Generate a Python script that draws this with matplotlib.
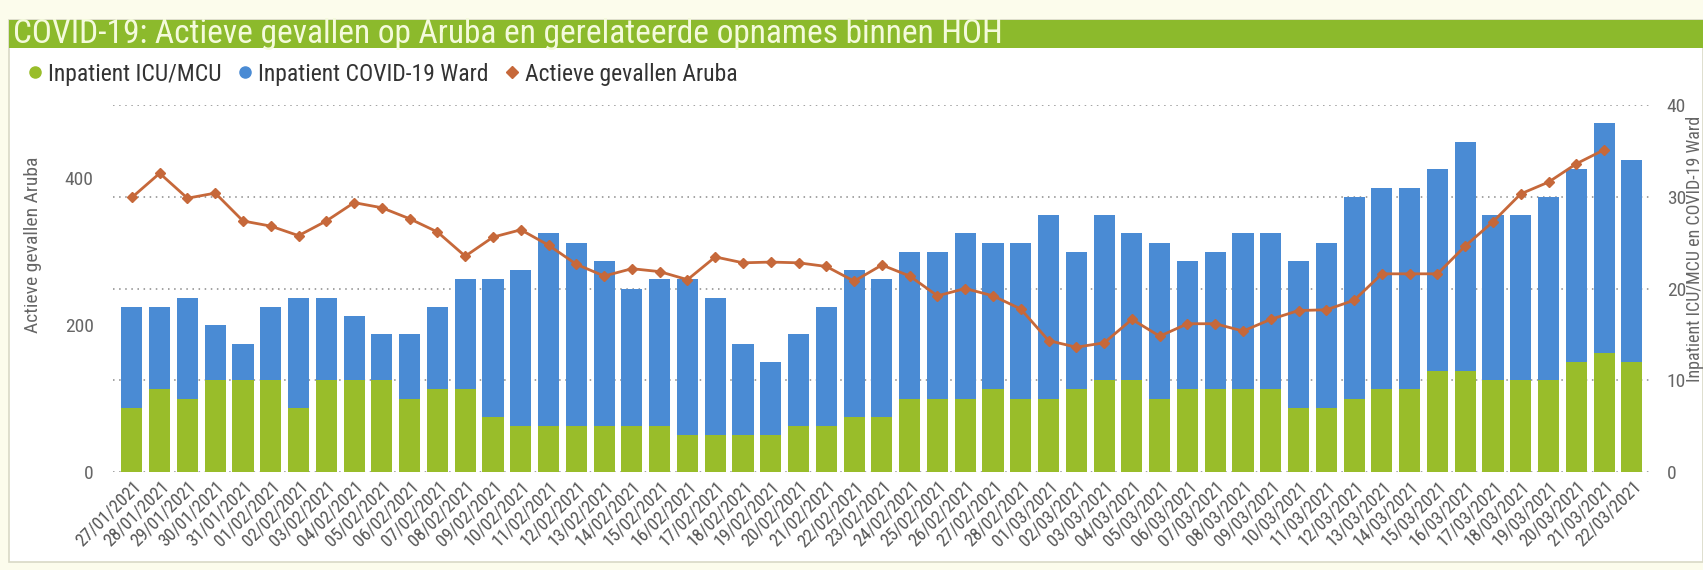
import numpy as np
import matplotlib
matplotlib.use("Agg")
import matplotlib.pyplot as plt
from matplotlib import font_manager
from matplotlib.lines import Line2D
from matplotlib.patches import Rectangle

# the reference uses a narrow regular face; take one if it is installed
fonts = font_manager.fontManager.ttflist


def is_narrow(f):
    return ('Condensed' in f.name or 'Narrow' in f.name
            or f.stretch in ('condensed', 'semi-condensed'))


cands = [f for f in fonts if is_narrow(f) and f.style == 'normal'
         and f.weight in (300, 400, 'normal', 'regular', 'light', 'book')]
if cands:
    # regular weight first, light after
    cands.sort(key=lambda f: 0 if f.weight in (400, 'normal', 'regular', 'book') else 1)
    f0 = cands[0]
    for pref in ['Liberation Sans Narrow', 'Roboto Condensed', 'Noto Sans', 'Open Sans']:
        hit = [f for f in cands if f.name == pref]
        if hit:
            f0 = hit[0]
            break
    plt.rcParams['font.family'] = [f0.name, 'DejaVu Sans']
    plt.rcParams['font.stretch'] = f0.stretch
    plt.rcParams['font.weight'] = f0.weight
    sz = dict(title=24, legend=17, dates=13, ticks=14, ylab=14, ylab2=13)
else:
    plt.rcParams['font.family'] = ['Liberation Sans', 'DejaVu Sans']
    sz = dict(title=21, legend=15.5, dates=11.5, ticks=12.5, ylab=12.5, ylab2=11.5)

# data
dates = ["27/01/2021", "28/01/2021", "29/01/2021", "30/01/2021", "31/01/2021",
         "01/02/2021", "02/02/2021", "03/02/2021", "04/02/2021", "05/02/2021",
         "06/02/2021", "07/02/2021", "08/02/2021", "09/02/2021", "10/02/2021",
         "11/02/2021", "12/02/2021", "13/02/2021", "14/02/2021", "15/02/2021",
         "16/02/2021", "17/02/2021", "18/02/2021", "19/02/2021", "20/02/2021",
         "21/02/2021", "22/02/2021", "23/02/2021", "24/02/2021", "25/02/2021",
         "26/02/2021", "27/02/2021", "28/02/2021", "01/03/2021", "02/03/2021",
         "03/03/2021", "04/03/2021", "05/03/2021", "06/03/2021", "07/03/2021",
         "08/03/2021", "09/03/2021", "10/03/2021", "11/03/2021", "12/03/2021",
         "13/03/2021", "14/03/2021", "15/03/2021", "16/03/2021", "17/03/2021",
         "18/03/2021", "19/03/2021", "20/03/2021", "21/03/2021", "22/03/2021"]

icu = [7, 9, 8, 10, 10, 10, 7, 10, 10, 10,
       8, 9, 9, 6, 5, 5, 5, 5, 5, 5,
       4, 4, 4, 4, 5, 5, 6, 6, 8, 8,
       8, 9, 8, 8, 9, 10, 10, 8, 9, 9,
       9, 9, 7, 7, 8, 9, 9, 11, 11, 10,
       10, 10, 12, 13, 12]

ward = [11, 9, 11, 6, 4, 8, 12, 9, 7, 5,
        7, 9, 12, 15, 17, 21, 20, 18, 15, 16,
        17, 15, 10, 8, 10, 13, 16, 15, 16, 16,
        18, 16, 17, 20, 15, 18, 16, 17, 14, 15,
        17, 17, 16, 18, 22, 22, 22, 22, 25, 18,
        18, 20, 21, 25, 22]

actief = [374, 407, 373, 380, 342, 335, 322, 342, 367, 360,
          345, 327, 294, 320, 330, 309, 283, 267, 277, 273,
          262, 293, 285, 286, 285, 280, 260, 282, 267, 240,
          250, 240, 222, 179, 170, 176, 208, 185, 202, 202,
          192, 208, 220, 221, 234, 270, 270, 270, 308, 341,
          379, 395, 420, 439, np.nan]

green = '#99bd2a'
blue = '#4a8bd4'
orange = '#c6683a'
grey = '#666666'

fig = plt.figure(figsize=(17.03, 5.70), dpi=100, facecolor='#fcfcec')

# panel and title bar
fig.patches.append(Rectangle((9 / 1703, 1 - 562 / 570), 1 - 9 / 1703, (562 - 20) / 570,
                             transform=fig.transFigure, facecolor='white',
                             edgecolor='#d9d9c6', lw=1.2, zorder=-2))
fig.patches.append(Rectangle((9 / 1703, 1 - 48 / 570), 1 - 9 / 1703, 28 / 570,
                             transform=fig.transFigure, facecolor='#8cba2c',
                             edgecolor='none', zorder=-1))
fig.text(13 / 1703, 1 - 34 / 570,
         "COVID-19: Actieve gevallen op Aruba en gerelateerde opnames binnen HOH",
         color='#f4fadc', fontsize=sz['title'], va='center', ha='left')

ax = fig.add_axes([113 / 1703, 1 - 472 / 570, (1650 - 113) / 1703, (472 - 105) / 570])
ax2 = ax.twinx()
ax2.set_zorder(2)
ax.set_zorder(3)
ax.patch.set_visible(False)
ax2.patch.set_visible(False)

x = np.arange(len(dates))
ax2.bar(x, icu, width=0.76, color=green, zorder=2)
ax2.bar(x, ward, width=0.76, bottom=icu, color=blue, zorder=2)
ax2.set_ylim(0, 40)
ax2.set_yticks([0, 10, 20, 30, 40])
ax2.set_axisbelow(True)
ax2.grid(axis='y', color='#8a8a8a', linestyle=(0, (1, 3)), lw=1.1)

ax.plot(x, actief, color=orange, lw=2, marker='D', markersize=5, zorder=3)
ax.set_ylim(0, 500)
ax.set_yticks([0, 200, 400])
ax.set_xlim(-0.68, 54.65)
ax.set_xticks(x)
ax.set_xticklabels(dates, rotation=45, ha='right', rotation_mode='anchor',
                   fontsize=sz['dates'], color='#555555')

for a in (ax, ax2):
    for s in a.spines.values():
        s.set_visible(False)
ax.tick_params(axis='y', length=0, pad=14, labelsize=sz['ticks'], labelcolor=grey)
ax2.tick_params(axis='y', length=0, pad=12, labelsize=sz['ticks'], labelcolor=grey)
ax.tick_params(axis='x', length=0, pad=4)

fig.text(33 / 1703, 1 - 245 / 570, "Actieve gevallen Aruba", rotation=90,
         fontsize=sz['ylab'], color=grey, ha='center', va='center')
fig.text(1695 / 1703, 1 - 249 / 570, "Inpatient ICU/MCU en COVID-19 Ward", rotation=90,
         fontsize=sz['ylab2'], color=grey, ha='center', va='center')

handles = [Line2D([], [], marker='o', ls='none', color=green, markersize=8),
           Line2D([], [], marker='o', ls='none', color=blue, markersize=8),
           Line2D([], [], marker='D', ls='none', color=orange, markersize=6)]
fig.legend(handles, ["Inpatient ICU/MCU", "Inpatient COVID-19 Ward", "Actieve gevallen Aruba"],
           loc='center left', bbox_to_anchor=(2 / 1703, 1 - 74 / 570), ncol=3, frameon=False,
           fontsize=sz['legend'], handletextpad=0.05, columnspacing=0.5, handlelength=1.0,
           labelcolor='#333333')

fig.savefig("out.png", dpi=100, facecolor=fig.get_facecolor())
